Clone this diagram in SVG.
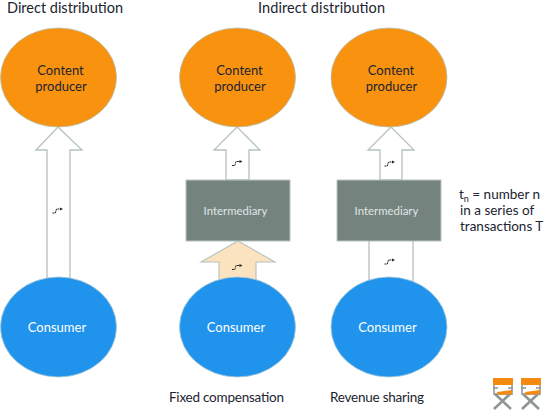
<svg xmlns="http://www.w3.org/2000/svg" width="545" height="410" viewBox="0 0 545 410">
<style>
text{font-family:Lato,"Noto Sans","Liberation Sans",sans-serif;fill:#1b2430}
.h{font-size:14.5px}
.s{font-size:13.5px}
.n{font-size:13px;text-anchor:middle}
.w{font-size:13px;text-anchor:middle;fill:#fff}
.i{font-size:11.400px;text-anchor:middle;fill:#dfe6e4}
.o{fill:#f9920f;stroke:#b5bfae;stroke-width:.8}
.b{fill:#2093ec;stroke:#a9c9d6;stroke-width:.8}
.r{fill:#75837f;stroke:#b9c4c1;stroke-width:1}
.a{fill:#fff;stroke:#b5c2c0;stroke-width:1.3}
.p{fill:#fbe3bf;stroke:#b5c2c0;stroke-width:1.1}
.l{fill:none;stroke:#b5c2c0;stroke-width:1.3}
.t{fill:none;stroke:#222;stroke-width:1}
.c1{fill:#f58a12}.c2{fill:none;stroke:#8f9494;stroke-width:1.5}.c3{fill:none;stroke:#8f9494;stroke-width:2.6}
</style>
<defs>
<g id="tk"><path class="t" d="M-5 2.500H-2.200L-1 -1.500H3" stroke-dasharray="2 .6"/><path d="M2.500 -3L5.500 -1.500L2.500 0Z" fill="#222"/></g>
<g id="chair">
<path class="c3" d="M3 17L19 32M18 17L2 32"/>
<path class="c2" d="M2 1V18M20 1V18M1 11H6M16 11H21M3 17H20"/>
<rect class="c1" x="1" y="1" width="20" height="7"/>
<path class="c1" d="M5 15L20 13V17L6 18Z"/>
</g>
</defs>
<text class="h" x="7" y="13" textLength="116">Direct distribution</text>
<text class="h" x="258" y="13" textLength="127">Indirect distribution</text>
<g id="connectors">
<path class="a" d="M58 127L82 150H70V280H47V150H36Z"/>
<path class="a" d="M237 127L260 150H249V180H226V150H214Z"/>
<path class="p" d="M238 241L275 262H256V288H219V262H201Z"/>
<path class="a" d="M391 127L414 150H402V180H380V150H368Z"/>
<path class="l" d="M369 241V285M413 241V285"/>
<use href="#tk" x="57.500" y="210.500"/>
<use href="#tk" x="237" y="163"/>
<use href="#tk" x="237" y="267"/>
<use href="#tk" x="389.500" y="163.500"/>
<use href="#tk" x="389.500" y="261.500"/>
</g>
<g id="producer1"><ellipse class="o" cx="58.500" cy="77.500" rx="58" ry="49.500"/><text class="n" x="60.500" y="75">Content</text><text class="n" x="61" y="91">producer</text></g>
<g id="producer2"><ellipse class="o" cx="237.500" cy="77.500" rx="58" ry="49.500"/><text class="n" x="239.500" y="75">Content</text><text class="n" x="240" y="91">producer</text></g>
<g id="producer3"><ellipse class="o" cx="389" cy="77.500" rx="58" ry="49.500"/><text class="n" x="391" y="75">Content</text><text class="n" x="391.500" y="91">producer</text></g>
<g id="intermediary2"><rect class="r" x="186" y="180" width="104" height="61"/><text class="i" x="235.500" y="215">Intermediary</text></g>
<g id="intermediary3"><rect class="r" x="337" y="180" width="104" height="61"/><text class="i" x="386.500" y="215">Intermediary</text></g>
<g id="consumer1"><ellipse class="b" cx="58.500" cy="327" rx="58" ry="50"/><text class="w" x="57" y="332">Consumer</text></g>
<g id="consumer2"><ellipse class="b" cx="237.500" cy="327" rx="58" ry="50"/><text class="w" x="236" y="332">Consumer</text></g>
<g id="consumer3"><ellipse class="b" cx="389" cy="327" rx="58" ry="50"/><text class="w" x="387.500" y="332">Consumer</text></g>
<g id="legend"><text class="s" x="459" y="199">t<tspan font-size="9" dy="3">n</tspan><tspan dy="-3"> = number n</tspan></text><text class="s" x="460" y="215">in a series of</text><text class="s" x="460" y="231">transactions T</text></g>
<text class="s" x="169" y="402" textLength="115">Fixed compensation</text>
<text class="s" x="330" y="402" textLength="94">Revenue sharing</text>
<g id="chairs"><use href="#chair" x="492" y="377"/><use href="#chair" x="520" y="377"/></g>
</svg>
